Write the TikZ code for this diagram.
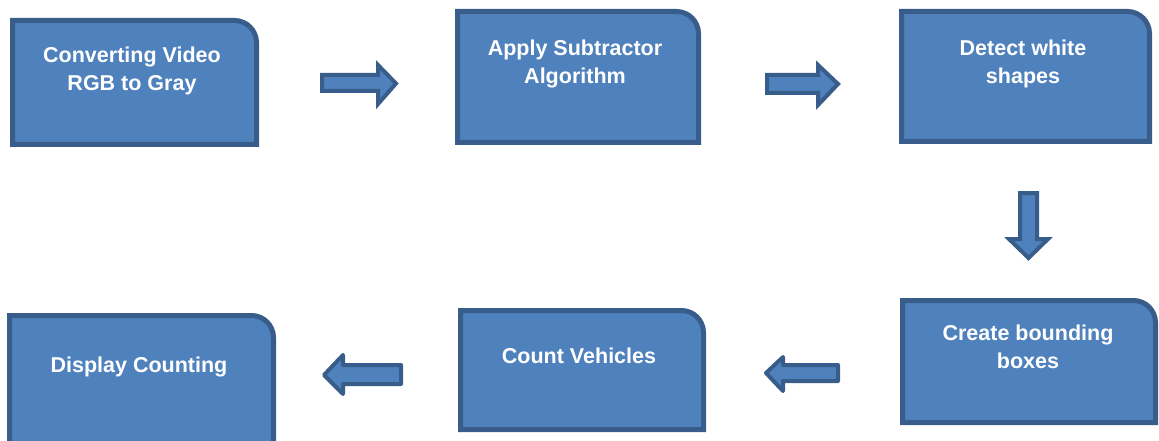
\documentclass[tikz,border=0pt]{standalone}
\usepackage{fontspec}
\setmainfont{Liberation Sans}
\definecolor{boxfill}{HTML}{4F81BD}
\definecolor{boxline}{HTML}{385D8A}
\tikzset{
  boxshape/.style={fill=boxfill, draw=boxline, line width=5pt, line join=miter},
  arrowshape/.style={fill=boxfill, draw=boxline, line width=4pt},
  label/.style={text=white, font=\fontsize{21.5}{28}\selectfont\bfseries, align=center, inner sep=0pt, anchor=north}
}
\newcommand{\procbox}[4]{% x1 y1 x2 y2
  \path[boxshape] (#1,#2) -- ({#3-22},#2) .. controls ({#3-22+12.1},#2) and (#3,{#2+22-12.1}) .. (#3,{#2+22}) -- (#3,#4) -- (#1,#4) -- cycle;
}
\begin{document}
\begin{tikzpicture}[x=1pt,y=-1pt]
\useasboundingbox (0,0) rectangle (1159,441);
\clip (0,0) rectangle (1159,441);
% boxes
\procbox{12.5}{20.5}{256.5}{144.5}
\procbox{457.5}{11.5}{698.5}{142.5}
\procbox{901.5}{11.5}{1149.5}{141.5}
\procbox{902.5}{300.5}{1155.5}{422.5}
\procbox{460.5}{310.5}{703.5}{429.5}
\procbox{9.5}{315.5}{273.5}{460}
% labels
\node[label] (t1) at (132,46.5) {Converting Video\\RGB to Gray};
\node[label] (t2) at (575,39.5) {Apply Subtractor\\Algorithm};
\node[label] (t3) at (1023,39.5) {Detect white\\shapes};
\node[label] (t4) at (1028,324.5) {Create bounding\\boxes};
\node[label] (t5) at (579,347.5) {Count Vehicles};
\node[label] (t6) at (139,356.5) {Display Counting};
% block arrows
\path[arrowshape, line join=miter] (322,75) -- (378,75) -- (378,65) -- (396,83.5) -- (378,104) -- (378,91) -- (322,91) -- cycle;
\path[arrowshape, line join=miter] (767,75) -- (818,75) -- (818,65) -- (838,84) -- (818,105) -- (818,93) -- (767,93) -- cycle;
\path[arrowshape, line join=miter] (1020,193) -- (1037,193) -- (1037,239) -- (1048,239) -- (1028.5,258) -- (1009,239) -- (1020,239) -- cycle;
\path[arrowshape, line join=round] (838,365) -- (783,365) -- (783,357) -- (766,373) -- (783,391) -- (783,381) -- (838,381) -- cycle;
\path[arrowshape, line join=round] (401,365) -- (343,365) -- (343,355) -- (324,375) -- (343,394) -- (343,384) -- (401,384) -- cycle;
\end{tikzpicture}
\end{document}
